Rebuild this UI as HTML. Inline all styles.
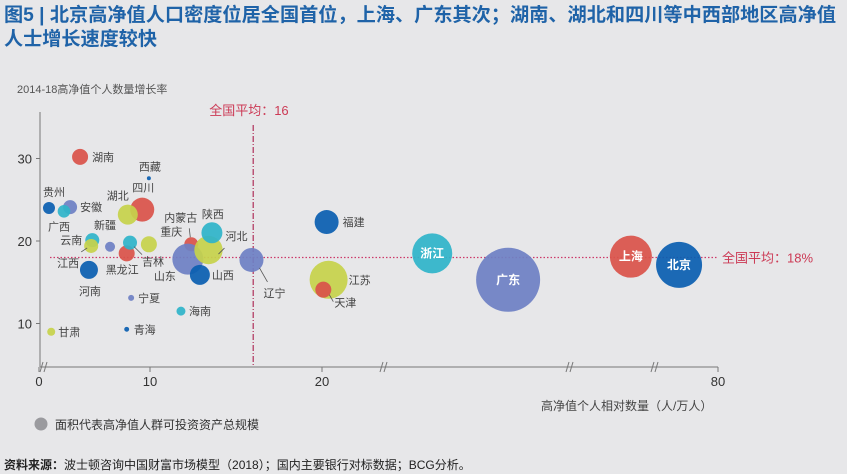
<!DOCTYPE html>
<html><head><meta charset="utf-8"><style>
html,body{margin:0;padding:0;background:#e7e7e9;}
svg{display:block;font-family:"Liberation Sans","Noto Sans CJK SC",sans-serif;}
</style></head><body>
<svg id="chart" width="847" height="474" viewBox="0 0 847 474" xmlns="http://www.w3.org/2000/svg">
<rect x="0" y="0" width="847" height="474" fill="#e7e7e9"/>
<text x="4" y="21" font-size="19" font-weight="bold" fill="#1f63a8" textLength="832" lengthAdjust="spacingAndGlyphs">图5 | 北京高净值人口密度位居全国首位，上海、广东其次；湖南、湖北和四川等中西部地区高净值</text>
<text x="4" y="45" font-size="19" font-weight="bold" fill="#1f63a8" textLength="153" lengthAdjust="spacingAndGlyphs">人士增长速度较快</text>
<text x="17" y="93" font-size="11" fill="#555">2014-18高净值个人数量增长率</text>
<text x="541" y="410" font-size="12" fill="#444">高净值个人相对数量（人/万人）</text>
<circle cx="41" cy="424" r="6.5" fill="#9a9a9e"/>
<text x="55" y="429" font-size="12" fill="#333">面积代表高净值人群可投资资产总规模</text>
<text x="4" y="469" font-size="12" fill="#222"><tspan font-weight="bold">资料来源：</tspan>波士顿咨询中国财富市场模型（2018）；国内主要银行对标数据；BCG分析。</text>
<g id="plot"></g>
</svg>
<script>
const provinces=["湖南","西藏","四川","湖北","贵州","安徽","广西","云南","江西","新疆","黑龙江","吉林","吉林2","河南","宁夏","海南","青海","甘肃","内蒙古","山东","河北","陕西","重庆","山西","辽宁","福建","江苏","天津","浙江","广东","上海","北京"];
const density=[3.7,9.9,9.3,8.0,0.9,2.8,2.25,4.8,4.7,6.4,7.9,8.2,9.9,4.5,8.3,11.8,7.9,1.1,12.4,12.2,13.4,13.6,12.4,12.9,15.9,20.7,21.0,20.2,36.7,48.2,66.8,74.1];
const growth=[30.2,27.6,23.8,23.2,24.0,24.1,23.6,20.1,19.4,19.3,18.5,19.8,19.6,16.5,13.1,11.5,9.3,9.0,19.6,17.8,18.9,21.0,19.6,15.9,17.7,22.3,15.3,14.1,18.5,15.3,18.1,17.1];
const assets=[64,4,144,100,36,49,40,49,49,25,64,49,64,81,9,20,6,16,49,240,200,110,0,100,144,144,361,64,400,1024,441,529];
const colorKey=["r","b","r","y","b","p","t","t","y","p","r","t","y","b","p","t","b","y","r","p","y","t","r","b","p","b","y","r","t","p","r","b"];
const xTicks=[0,10,20,80];
const yTicks=[10,20,30];
const avgX=16, avgY=18;
const palette={r:"#d9534a",b:"#0b5fb0",p:"#6e80c4",t:"#2fb4c9",y:"#c6d24b"};
const xd=[0,10,20,80], xr=[39,150,322,718];
function xs(v){for(let i=0;i<xd.length-1;i++){if(v<=xd[i+1]||i===xd.length-2){return xr[i]+(v-xd[i])/(xd[i+1]-xd[i])*(xr[i+1]-xr[i]);}}}
function ys(v){return 241-(v-20)*8.25;}
function rs(a){return Math.sqrt(a);}
const NS="http://www.w3.org/2000/svg";
const g=document.getElementById('plot');
function mk(t,at,txt){const e=document.createElementNS(NS,t);for(const k in at)e.setAttribute(k,at[k]);if(txt!==undefined)e.textContent=txt;g.appendChild(e);return e;}
let e=mk('line',{x1:40,y1:112,x2:40,y2:367,stroke:'#777','stroke-width':1});


e=mk('line',{x1:40,y1:367,x2:718,y2:367,stroke:'#777','stroke-width':1});


[44,384,570,655].forEach((bx)=>{
 const b=mk('path',{d:`M${bx-4} 372 L${bx-1} 362 M${bx} 372 L${bx+3} 362`,stroke:'#777',fill:'none','stroke-width':1});
 
 
});
xTicks.forEach(v=>{
 const x=xs(v);
 const t=mk('line',{x1:x,y1:367,x2:x,y2:372,stroke:'#777'});
 
 
 const l=mk('text',{x:x,y:386,'font-size':13,fill:'#333','text-anchor':'middle'},String(v));
 
 
});
yTicks.forEach(v=>{
 const y=ys(v);
 const t=mk('line',{x1:36,y1:y,x2:40,y2:y,stroke:'#777'});
 
 
 const l=mk('text',{x:32,y:y+5,'font-size':13,fill:'#333','text-anchor':'end'},String(v));
 
 
});
e=mk('line',{x1:xs(avgX),y1:125,x2:xs(avgX),y2:367,stroke:'#b0305a','stroke-width':1.2,'stroke-dasharray':'6 2 1 2'});


e=mk('text',{x:xs(avgX)-44,y:115,'font-size':13,fill:'#cc3a55'},'全国平均：'+avgX);


e=mk('line',{x1:50,y1:ys(avgY),x2:718,y2:ys(avgY),stroke:'#cc3a6a','stroke-width':1.2,'stroke-dasharray':'1.5 2'});


e=mk('text',{x:722,y:ys(avgY)+5,'font-size':13,fill:'#cc3a55'},'全国平均：'+avgY+'%');


const lab={"湖南":[12,4],"西藏":[-10,-8],"四川":[-10,-18],"湖北":[-21,-15],"贵州":[-6,-12],"安徽":[10,4],"广西":[-16,19],"云南":[-32,4],"江西":[-34,21],"新疆":[-16,-18],"黑龙江":[-21,20],"吉林":[12,23],"河南":[-10,25],"宁夏":[7,4],"海南":[8,4],"青海":[7,4],"甘肃":[7,4],"内蒙古":[-27,-23],"山东":[-34,21],"河北":[17,-10],"陕西":[-10,-15],"重庆":[-31,-9],"山西":[12,4],"辽宁":[12,37],"福建":[16,4],"江苏":[20,4],"天津":[11,17],"浙江":[0,4,1],"广东":[0,4,1],"上海":[0,4,1],"北京":[0,4,1]};
const leaders={"辽宁":[8,8,16,22],"天津":[6,5,10,12],"内蒙古":[-2,-16,-1,-7],"吉林":[4,4,12,12],"江西":[-10,6,-4,2],"河北":[16,-2,10,4]};
provinces.forEach((p,i)=>{
 const cx=xs(density[i]), cy=ys(growth[i]), r=rs(assets[i]);
 if(r>0){
 const c=mk('circle',{cx:cx,cy:cy,r:r,fill:palette[colorKey[i]],'fill-opacity':0.93});
 
 
 }
 const o=lab[p];
 if(!o)return;
 const inside=o[2]===1;
 const t=mk('text',{x:cx+o[0],y:cy+o[1],'font-size':inside?12:11,fill:inside?'#fff':'#444','font-weight':inside?'bold':'normal','text-anchor':inside?'middle':'start'},p);
 
 
 const L=leaders[p];
 if(L){
  const ln=mk('line',{x1:cx+L[0],y1:cy+L[1],x2:cx+L[2],y2:cy+L[3],stroke:'#555','stroke-width':0.8});
  
  
 }
});
</script>
</body></html>
